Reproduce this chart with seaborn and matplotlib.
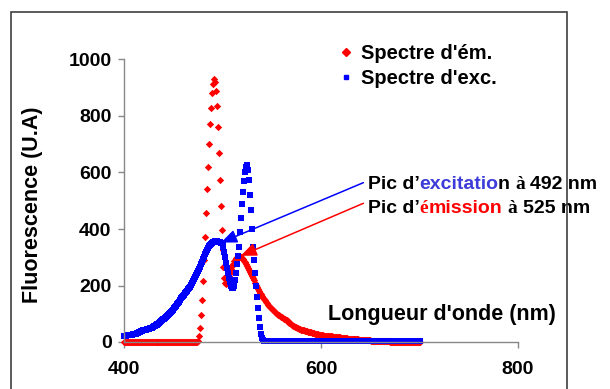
import numpy as np
import pandas as pd
import matplotlib
matplotlib.use("Agg")
import matplotlib.pyplot as plt
import seaborn as sns
from matplotlib.lines import Line2D
from matplotlib.patches import Rectangle

# longueurs d'onde (nm), pas de 1 nm
longueur = np.arange(400, 701)

# spectre d'emission (rouge)
spectre_em = [
    0, 0, 0, 0, 0, 0, 0, 0, 0, 0, 0, 0, 0, 0, 0,
    0, 0, 0, 0, 0, 0, 0, 0, 0, 0, 0, 0, 0, 0, 0,
    0, 0, 0, 0, 0, 0, 0, 0, 0, 0, 0, 0, 0, 0, 0,
    0, 0, 0, 0, 0, 0, 0, 0, 0, 0, 0, 0, 0, 0, 0,
    0, 0, 0, 0, 0, 0, 0, 0, 0, 0, 0, 0, 0, 0, 0,
    5, 20, 50, 95, 150, 215, 290, 370, 455, 540,
    620, 700, 770, 830, 880, 915, 930, 920, 890, 835,
    760, 670, 575, 480, 395, 325, 265, 225, 208, 205,
    210, 220, 232, 246, 258, 268, 277, 285, 291, 296,
    299, 301, 302, 302, 300, 297, 293, 288, 282, 276,
    269, 262, 255, 248, 241, 234, 226, 218, 210, 202,
    195, 188, 181, 175, 169, 163, 157, 152, 147, 142,
    137, 132, 128, 124, 120, 116, 112, 109, 106, 103,
    100, 97, 94, 91, 89, 87, 85, 83, 81, 79,
    77, 75, 72, 69, 66, 63, 60, 58, 56, 54,
    52, 50, 48, 46, 45, 44, 43, 42, 41, 40,
    39, 38, 37, 36, 35, 34, 33, 32, 31, 30,
    29, 28, 27, 26, 25, 25, 24, 24, 23, 23,
    22, 22, 21, 21, 20, 20, 20, 19, 19, 18,
    18, 17, 17, 16, 16, 15, 15, 14, 14, 13,
    13, 13, 12, 12, 12, 11, 11, 11, 10, 10,
    10, 9, 9, 9, 8, 8, 8, 8, 7, 7,
    7, 7, 6, 6, 6, 6, 5, 5, 5, 4,
    4, 4, 4, 3, 3, 3, 3, 3, 2, 2,
    2, 2, 2, 2, 2, 1, 1, 1, 1, 1,
    1, 1, 1, 1, 1, 1, 0, 0, 0, 0,
    0, 0, 0, 0, 0, 0, 0, 0, 0, 0,
    0, 0, 0, 0, 0, 0,
]

# spectre d'excitation (bleu)
spectre_exc = [
    22, 23, 23, 24, 24, 25, 25, 26, 26, 27,
    28, 29, 30, 31, 33, 35, 37, 38, 40, 41,
    42, 43, 44, 45, 46, 47, 48, 50, 51, 53,
    55, 57, 59, 61, 63, 65, 68, 71, 74, 77,
    80, 83, 86, 90, 93, 96, 99, 103, 107, 111,
    115, 119, 123, 128, 133, 138, 143, 149, 154, 158,
    163, 167, 172, 177, 181, 186, 191, 196, 203, 210,
    217, 224, 231, 238, 245, 252, 259, 266, 275, 284,
    293, 302, 311, 319, 326, 333, 339, 344, 348, 351,
    353, 355, 356, 356, 356, 355, 355, 354, 352, 349,
    345, 335, 320, 300, 280, 262, 244, 228, 212, 200,
    192, 190, 200, 220, 244, 275, 305, 337, 390, 440,
    490, 530, 570, 600, 620, 628, 610, 573, 520, 467,
    400, 337, 290, 245, 200, 160, 120, 85, 54, 30,
    15, 6, 3, 3, 3, 3, 3, 3, 3, 3,
    3, 3, 3, 3, 3, 3, 3, 3, 3, 3,
    3, 3, 3, 3, 3, 3, 3, 3, 3, 3,
    3, 3, 3, 3, 3, 3, 3, 3, 3, 3,
    3, 3, 3, 3, 3, 3, 3, 3, 3, 3,
    3, 3, 3, 3, 3, 3, 3, 3, 3, 3,
    3, 3, 3, 3, 3, 3, 3, 3, 3, 3,
    3, 3, 3, 3, 3, 3, 3, 3, 3, 3,
    3, 3, 3, 3, 3, 3, 3, 3, 3, 3,
    3, 3, 3, 3, 3, 3, 3, 3, 3, 3,
    3, 3, 3, 3, 3, 3, 3, 3, 3, 3,
    3, 3, 3, 3, 3, 3, 3, 3, 3, 3,
    3, 3, 3, 3, 3, 3, 3, 3, 3, 3,
    3, 3, 3, 3, 3, 3, 3, 3, 3, 3,
    3, 3, 3, 3, 3, 3, 3, 3, 3, 3,
    3, 3, 3, 3, 3, 3, 3, 3, 3, 3,
    3,
]

noms = ["Spectre d'ém.", "Spectre d'exc."]
x_ticks = [400, 600, 800]
y_ticks = [0, 200, 400, 600, 800, 1000]

df_em = pd.DataFrame({"nm": longueur, "fluo": spectre_em})
df_exc = pd.DataFrame({"nm": longueur, "fluo": spectre_exc})

sns.set_theme(style="ticks")
plt.rcParams["font.family"] = ["Liberation Sans", "DejaVu Sans"]
plt.rcParams["font.weight"] = "bold"
plt.rcParams["text.color"] = "black"
plt.rcParams["axes.labelcolor"] = "black"

fig = plt.figure(figsize=(6.1, 3.89), dpi=100)
ax = fig.add_axes([124 / 610, 1 - 342 / 389, 394 / 610, 282.5 / 389])

# nuages de points
sns.scatterplot(data=df_em, x="nm", y="fluo", color="#ff0000", marker="D",
                s=14, linewidth=0, legend=False, ax=ax, clip_on=False)
sns.scatterplot(data=df_exc, x="nm", y="fluo", color="#0000ff", marker="s",
                s=17, linewidth=0, legend=False, ax=ax, clip_on=False)

ax.set_xlim(400, 800)
ax.set_ylim(0, 1000)
ax.set_xticks(x_ticks)
ax.set_yticks(y_ticks)
ax.tick_params(axis="both", direction="out", length=4, width=1,
               color="#888888", labelcolor="black", labelsize=14)
ax.tick_params(axis="y", pad=5)
ax.tick_params(axis="x", pad=10)
for s in ["top", "right"]:
    ax.spines[s].set_visible(False)
for s in ["left", "bottom"]:
    ax.spines[s].set_color("#888888")
    ax.spines[s].set_linewidth(1)

ax.set_ylabel("Fluorescence (U.A)", fontsize=15.5, fontweight="bold")
ax.yaxis.set_label_coords(-0.206, 0.485)
ax.set_xlabel("Longueur d'onde (nm)", fontsize=15.5, fontweight="bold")
ax.xaxis.set_label_coords(0.806, 0.135)

# legende
poignees = [
    Line2D([], [], marker="D", color="#ff0000", linestyle="none", markersize=3.6),
    Line2D([], [], marker="s", color="#0000ff", linestyle="none", markersize=3),
]
ax.legend(poignees, noms, loc="upper left", bbox_to_anchor=(340 / 610, 1 - 44 / 389),
          bbox_transform=fig.transFigure, frameon=False, fontsize=14.5,
          handlelength=0.6, handletextpad=0.45, labelspacing=0.3,
          borderpad=0, borderaxespad=0)


# texte en plusieurs couleurs, morceau par morceau
def texte_couleurs(x, y, morceaux, taille=14):
    t = ax.text(x, y, morceaux[0][0], color=morceaux[0][1], fontsize=taille,
                fontweight="bold", family=morceaux[0][2], va="bottom", ha="left")
    for txt, coul, fam, ecart in morceaux[1:]:
        t = ax.annotate(txt, xy=(1, 0), xycoords=t, xytext=(ecart, 0),
                        textcoords="offset points", color=coul, fontsize=taille,
                        fontweight="bold", family=fam, va="bottom", ha="left",
                        annotation_clip=False)


sans = ["Liberation Sans", "DejaVu Sans"]
serif = ["Liberation Serif", "DejaVu Serif"]
esp = 0.278 * 14

texte_couleurs(647.5, 526, [
    ("Pic d\u2019", "black", sans),
    ("excitatio", "#3c3cd8", sans, 0),
    ("n", "black", sans, -0.8),
    ("à", "black", serif, esp),
    ("492 nm", "black", sans, esp),
])
texte_couleurs(647.5, 441, [
    ("Pic d\u2019", "black", sans),
    ("é", "#ff0000", serif, 0),
    ("mission", "#ff0000", sans, 0),
    ("à", "black", serif, esp),
    ("525 nm", "black", sans, esp),
])

# fleches
ax.annotate("", xy=(498.5, 352), xytext=(643, 564),
            arrowprops=dict(arrowstyle="-|>,head_length=0.6,head_width=0.25",
                            color="#0000ff", lw=1.1, mutation_scale=16,
                            shrinkA=0, shrinkB=0))
ax.annotate("", xy=(518.5, 305), xytext=(643, 491),
            arrowprops=dict(arrowstyle="-|>,head_length=0.6,head_width=0.25",
                            color="#ff0000", lw=1.1, mutation_scale=16,
                            shrinkA=0, shrinkB=0))

# cadre autour du graphique
fig.patches.append(Rectangle((11 / 610, -0.1), 556 / 610, 1 - 12 / 389 + 0.1,
                             transform=fig.transFigure, fill=False,
                             edgecolor="#404040", linewidth=1.2))

fig.savefig("out.png", dpi=100)
